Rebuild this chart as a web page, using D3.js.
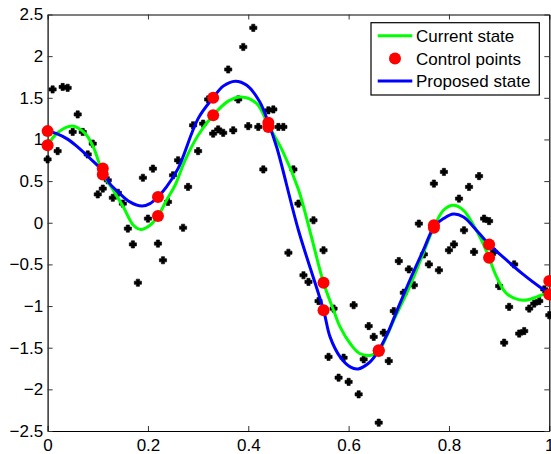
<html>
    <head>
        <meta charset="utf-8">
        <title>Current vs proposed state</title>
        <script type="text/javascript" src="https://d3js.org/d3.v7.min.js"></script>
        <style>
            body { margin: 0; background: #fff; }
            text { font-family: "Liberation Sans", Arial, sans-serif; font-size: 17px; fill: #000; }
        </style>
    </head>

    <body>
        <div id="my-viz"></div>

        <script type="text/javascript">
            // observed data (black crosses)
            var dataX = [0.00,0.01,0.02,0.03,0.04,0.05,0.06,0.07,0.08,0.09,
                         0.10,0.11,0.12,0.13,0.14,0.15,0.16,0.17,0.18,0.19,
                         0.20,0.21,0.22,0.23,0.24,0.25,0.26,0.27,0.28,0.29,
                         0.30,0.31,0.32,0.33,0.34,0.35,0.36,0.37,0.38,0.39,
                         0.40,0.41,0.42,0.43,0.44,0.45,0.46,0.47,0.48,0.49,
                         0.50,0.51,0.52,0.53,0.54,0.55,0.56,0.57,0.58,0.59,
                         0.60,0.61,0.62,0.63,0.64,0.65,0.66,0.67,0.68,0.69,
                         0.70,0.71,0.72,0.73,0.74,0.75,0.76,0.77,0.78,0.79,
                         0.80,0.81,0.82,0.83,0.84,0.85,0.86,0.87,0.88,0.89,
                         0.90,0.91,0.92,0.93,0.94,0.95,0.96,0.97,0.98,0.99,1.00];
            var dataY = [0.76,1.60,0.86,1.63,1.62,1.09,1.30,1.09,0.82,0.95,
                         0.34,0.41,0.51,0.30,0.36,0.23,-0.07,-0.26,-0.72,0.54,
                         0.05,0.65,-0.25,-0.45,0.25,0.57,0.75,-0.06,0.43,1.17,
                         0.86,1.19,1.48,1.07,1.12,1.08,1.84,1.11,1.48,2.11,
                         1.16,2.34,1.15,0.64,1.35,1.36,1.15,1.15,-0.36,0.64,
                         0.23,-0.63,-0.71,0.03,-0.94,-0.33,-1.61,-1.03,-1.86,-1.62,
                         -1.91,-0.99,-2.06,-1.64,-1.24,-1.37,-2.40,-1.32,-1.66,-1.06,
                         -0.46,-0.84,-0.56,-0.75,-0.01,-0.38,-0.50,0.47,-0.57,0.61,
                         -0.33,-0.26,0.29,-0.09,0.43,-0.35,0.56,0.05,0.02,-0.35,
                         -0.76,-1.44,-1.01,-0.50,-1.33,-1.30,-1.03,-0.97,-0.94,-0.80,-1.11];

            // control points (red), one pair per knot
            var knots = [0, 0.11, 0.22, 0.33, 0.44, 0.55, 0.66, 0.77, 0.88, 1.0];
            var currentCtrl = [0.93, 0.58, 0.08, 1.29, 1.15, -0.72, -1.54, -0.06, -0.42, -0.86];
            var proposedCtrl = [1.10, 0.65, 0.31, 1.50, 1.20, -1.05, -1.53, -0.03, -0.26, -0.70];

            // current state curve (green)
            var currentX = [0, 0.02, 0.049, 0.075, 0.091, 0.11, 0.131, 0.151, 0.171, 0.186, 0.204, 0.22,
                            0.237, 0.254, 0.274, 0.30, 0.33, 0.36, 0.386, 0.417, 0.44, 0.47, 0.50, 0.525,
                            0.55, 0.57, 0.583, 0.603, 0.622, 0.645, 0.66, 0.676, 0.69, 0.709, 0.722, 0.742,
                            0.771, 0.789, 0.809, 0.829, 0.849, 0.865, 0.88, 0.895, 0.915, 0.948, 0.975, 1.0];
            var currentY = [0.93, 1.08, 1.16, 1.07, 0.91, 0.60, 0.39, 0.19, -0.03, -0.08, -0.03, 0.08,
                            0.27, 0.45, 0.75, 1.05, 1.29, 1.46, 1.51, 1.43, 1.17, 0.84, 0.40, -0.15,
                            -0.72, -1.05, -1.25, -1.45, -1.57, -1.59, -1.54, -1.36, -1.17, -0.93, -0.76, -0.47,
                            -0.04, 0.15, 0.21, 0.15, -0.03, -0.21, -0.42, -0.65, -0.85, -0.93, -0.89, -0.83];

            // proposed state curve (blue)
            var proposedX = [0, 0.018, 0.038, 0.058, 0.078, 0.11, 0.124, 0.144, 0.164, 0.188, 0.204, 0.22,
                             0.237, 0.26, 0.30, 0.33, 0.35, 0.374, 0.397, 0.423, 0.44, 0.457, 0.50, 0.55,
                             0.563, 0.583, 0.603, 0.619, 0.639, 0.656, 0.676, 0.696, 0.722, 0.749, 0.771,
                             0.789, 0.809, 0.829, 0.849, 0.88, 0.915, 0.948, 0.981, 1.0];
            var proposedY = [1.10, 1.07, 1.01, 0.92, 0.81, 0.62, 0.47, 0.35, 0.25, 0.20, 0.23, 0.31,
                             0.43, 0.65, 1.25, 1.50, 1.64, 1.70, 1.65, 1.45, 1.20, 0.90, -0.09, -1.05,
                             -1.37, -1.61, -1.73, -1.755, -1.69, -1.57, -1.35, -1.06, -0.69, -0.33, -0.04,
                             0.05, 0.105, 0.07, -0.05, -0.26, -0.45, -0.62, -0.77, -0.84];

            var xTicks = [0, 0.2, 0.4, 0.6, 0.8, 1];
            var yTicks = [-2.5, -2, -1.5, -1, -0.5, 0, 0.5, 1, 1.5, 2, 2.5];
            var legendLabels = ["Current state", "Control points", "Proposed state"];

            //Width and height
            var w = 551;
            var h = 454;
            var pLeft = 47.6, pRight = 549.3, pTop = 14.5, pBottom = 431;

            var svg = d3.select("#my-viz")
                        .append("svg")
                        .attr("width", w)
                        .attr("height", h);

            var x = d3.scaleLinear().domain([0, 1]).range([pLeft, pRight]);
            var y = d3.scaleLinear().domain([-2.5, 2.5]).range([pBottom, pTop]);

            // axes, ticks pointing inward on all four sides
            var fmt = d3.format("");
            svg.append("g")
                .attr("transform", "translate(0," + pBottom + ")")
                .call(d3.axisBottom(x).tickValues(xTicks).tickSizeInner(-5).tickSizeOuter(0)
                    .tickPadding(8).tickFormat(fmt));
            svg.append("g")
                .attr("transform", "translate(0," + pTop + ")")
                .call(d3.axisTop(x).tickValues(xTicks).tickSizeInner(-5).tickSizeOuter(0).tickFormat(""));
            svg.append("g")
                .attr("transform", "translate(" + pLeft + ",0)")
                .call(d3.axisLeft(y).tickValues(yTicks).tickSizeInner(-5).tickSizeOuter(0)
                    .tickPadding(4.5).tickFormat(fmt));
            svg.append("g")
                .attr("transform", "translate(" + pRight + ",0)")
                .call(d3.axisRight(y).tickValues(yTicks).tickSizeInner(-5).tickSizeOuter(0).tickFormat(""));

            svg.selectAll(".domain").attr("stroke", "#000").attr("stroke-width", 1.2);
            svg.selectAll(".tick line").attr("stroke", "#333");
            svg.selectAll(".tick text").attr("font-size", 17).attr("font-family", "Liberation Sans, Arial, sans-serif");

            // data crosses: short thick plus marks
            var plus = {
                draw: function(ctx, size) {
                    var a = 3.6, t = 1.6;
                    ctx.moveTo(-a, -t); ctx.lineTo(-t, -t); ctx.lineTo(-t, -a); ctx.lineTo(t, -a);
                    ctx.lineTo(t, -t); ctx.lineTo(a, -t); ctx.lineTo(a, t); ctx.lineTo(t, t);
                    ctx.lineTo(t, a); ctx.lineTo(-t, a); ctx.lineTo(-t, t); ctx.lineTo(-a, t);
                    ctx.closePath();
                }
            };
            var cross = d3.symbol().type(plus);
            svg.append("g").selectAll("path")
                .data(dataX)
                .enter()
                .append("path")
                .attr("d", cross)
                .attr("transform", function(d, i) {
                    return "translate(" + x(d) + "," + y(dataY[i]) + ")";
                })
                .attr("fill", "#000")
                .attr("stroke", "#000")
                .attr("stroke-width", 0.6)
                .attr("stroke-linejoin", "round");

            var line = d3.line()
                .x(function(d) { return x(d[0]); })
                .y(function(d) { return y(d[1]); })
                .curve(d3.curveCatmullRom.alpha(0.5));

            svg.append("path")
                .datum(d3.zip(currentX, currentY))
                .attr("d", line)
                .attr("fill", "none")
                .attr("stroke", "#00ff00")
                .attr("stroke-width", 3);

            svg.append("path")
                .datum(d3.zip(proposedX, proposedY))
                .attr("d", line)
                .attr("fill", "none")
                .attr("stroke", "#0000ff")
                .attr("stroke-width", 3);

            var ctrl = d3.zip(knots, currentCtrl).concat(d3.zip(knots, proposedCtrl));
            svg.append("g").selectAll("circle")
                .data(ctrl)
                .enter()
                .append("circle")
                .attr("cx", function(d) { return x(d[0]); })
                .attr("cy", function(d) { return y(d[1]); })
                .attr("r", 6)
                .attr("fill", "#ff0000");

            // legend
            var lg = svg.append("g");
            lg.append("rect")
                .attr("x", 371).attr("y", 22.7)
                .attr("width", 168.3).attr("height", 72.3)
                .attr("fill", "#fff").attr("stroke", "#000").attr("stroke-width", 1.2);

            var rowsY = [35.7, 58.6, 81];
            var rowColors = ["#00ff00", "#ff0000", "#0000ff"];
            legendLabels.forEach(function(label, i) {
                if (i === 1) {
                    lg.append("circle").attr("cx", 395).attr("cy", rowsY[i]).attr("r", 6).attr("fill", rowColors[i]);
                } else {
                    lg.append("line")
                        .attr("x1", 377.7).attr("x2", 412.3)
                        .attr("y1", rowsY[i]).attr("y2", rowsY[i])
                        .attr("stroke", rowColors[i]).attr("stroke-width", 3);
                }
                lg.append("text")
                    .attr("x", 416)
                    .attr("y", rowsY[i])
                    .attr("dy", "0.35em")
                    .text(label);
            });
        </script>
    </body>
</html>
